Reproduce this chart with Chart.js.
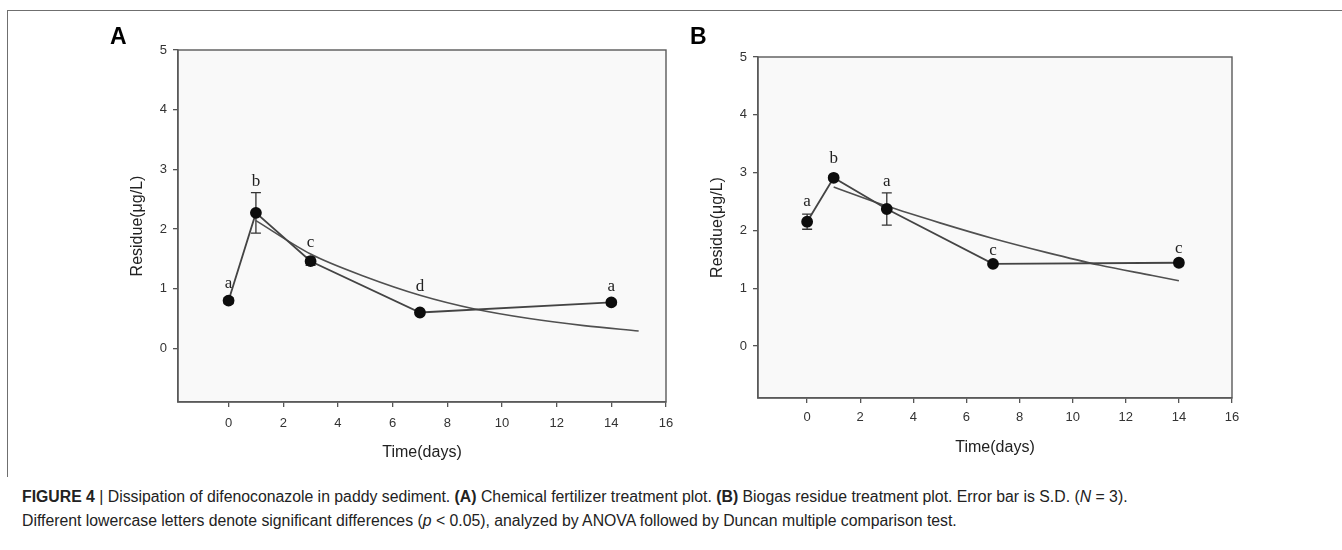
<!DOCTYPE html>
<html><head><meta charset="utf-8">
<script src="https://cdn.jsdelivr.net/npm/chart.js@4.4.1/dist/chart.umd.min.js"></script>
<style>
html,body{margin:0;padding:0;background:#fff;width:1342px;height:550px;overflow:hidden;}
#frame{position:absolute;left:7px;top:10px;width:1340px;height:466px;border-top:1px solid #6f6f6f;border-left:1px solid #6f6f6f;}
#wA{position:absolute;left:0;top:0;width:700px;height:470px;}
#wB{position:absolute;left:671px;top:0;width:671px;height:470px;}
.plbl{position:absolute;font:bold 23px "Liberation Sans",Arial,sans-serif;color:#000;line-height:23px;}
.cap{position:absolute;left:22px;font-size:15.8px;font-family:"Liberation Sans",Arial,sans-serif;color:#222;white-space:nowrap;line-height:20px;}
.cap b{font-weight:bold;}
</style></head>
<body>
<div id="frame"></div>
<div id="wA"><canvas id="cA"></canvas></div>
<div id="wB"><canvas id="cB"></canvas></div>
<div class="plbl" style="left:110px;top:25px;">A</div>
<div class="plbl" style="left:690px;top:25px;">B</div>
<div class="cap" style="top:487px;"><b>FIGURE 4</b> | Dissipation of difenoconazole in paddy sediment. <b>(A)</b> Chemical fertilizer treatment plot. <b>(B)</b> Biogas residue treatment plot. Error bar is S.D. (<i>N</i> = 3).</div>
<div class="cap" style="top:511px;">Different lowercase letters denote significant differences (<i>p</i> &lt; 0.05), analyzed by ANOVA followed by Duncan multiple comparison test.</div>
<script>
// ---- data ----
const days = [0, 1, 3, 7, 14];
const residueA = [0.80, 2.27, 1.46, 0.60, 0.77];
const sdA = [0.05, 0.34, 0.07, 0.03, 0.04];
const lettersA = ['a', 'b', 'c', 'd', 'a'];
const letterValA = [1.08, 2.80, 1.77, 1.03, 1.03];
const fitDaysA = [1, 3, 5, 7, 9, 11, 13, 15];
const fitA = [2.14, 1.58, 1.20, 0.89, 0.66, 0.50, 0.38, 0.29];

const residueB = [2.15, 2.91, 2.37, 1.42, 1.44];
const sdB = [0.13, 0.04, 0.28, 0.02, 0.05];
const lettersB = ['a', 'b', 'a', 'c', 'c'];
const letterValB = [2.50, 3.24, 2.84, 1.65, 1.68];
const fitDaysB = [1, 3, 5, 7, 9, 11, 13, 14];
const fitB = [2.75, 2.42, 2.13, 1.86, 1.62, 1.40, 1.22, 1.13];

const xTicks = [0, 2, 4, 6, 8, 10, 12, 14, 16];
const yTicks = [0, 1, 2, 3, 4, 5];
const xTitle = 'Time(days)';
const yTitle = 'Residue(\u03bcg/L)';

function pts(xs, ys) { return xs.map((x, i) => ({x: x, y: ys[i]})); }

const areaPlugin = {
  id: 'area',
  beforeDraw(chart) {
    const {ctx, chartArea: a} = chart;
    ctx.save();
    ctx.fillStyle = '#f9f9f9';
    ctx.fillRect(a.left, a.top, a.right - a.left, a.bottom - a.top);
    ctx.restore();
  },
  afterDraw(chart) {
    const {ctx, chartArea: a} = chart;
    ctx.save();
    ctx.strokeStyle = '#5a5a5a';
    ctx.lineWidth = 1.4;
    ctx.strokeRect(a.left, a.top, a.right - a.left, a.bottom - a.top);
    ctx.restore();
  }
};

const markPlugin = {
  id: 'marks',
  beforeDatasetsDraw(chart, args, opts) {
    const {ctx, scales: {x, y}} = chart;
    ctx.save();
    ctx.strokeStyle = '#333';
    ctx.lineWidth = 1.3;
    opts.vals.forEach((v, i) => {
      const px = x.getPixelForValue(opts.days[i]);
      const t = y.getPixelForValue(v + opts.sd[i]);
      const b = y.getPixelForValue(v - opts.sd[i]);
      ctx.beginPath();
      ctx.moveTo(px, t); ctx.lineTo(px, b);
      ctx.moveTo(px - 5, t); ctx.lineTo(px + 5, t);
      ctx.moveTo(px - 5, b); ctx.lineTo(px + 5, b);
      ctx.stroke();
    });
    ctx.restore();
  },
  afterDatasetsDraw(chart, args, opts) {
    const {ctx, scales: {x, y}} = chart;
    ctx.save();
    ctx.fillStyle = '#222';
    ctx.font = '17px "Liberation Serif", "Times New Roman", serif';
    ctx.textAlign = 'center';
    ctx.textBaseline = 'middle';
    opts.letters.forEach((l, i) => {
      ctx.fillText(l, x.getPixelForValue(opts.days[i]), y.getPixelForValue(opts.letterVals[i]));
    });
    ctx.restore();
  }
};

const sans = '"Liberation Sans", Arial, sans-serif';

function makeChart(id, cfg) {
  return new Chart(document.getElementById(id), {
    type: 'scatter',
    data: {
      datasets: [
        {data: pts(days, cfg.vals), showLine: true, borderColor: '#444', borderWidth: 1.8,
         pointRadius: 5, pointBackgroundColor: '#0d0d0d', pointBorderColor: '#0d0d0d', tension: 0, order: 1},
        {data: pts(cfg.fitDays, cfg.fit), showLine: true, borderColor: '#505050', borderWidth: 1.6,
         pointRadius: 0, cubicInterpolationMode: 'monotone', order: 2}
      ]
    },
    options: {
      responsive: true, maintainAspectRatio: false, animation: false,
      layout: {padding: {top: cfg.top, right: cfg.right, left: 0, bottom: 0}},
      plugins: {
        legend: {display: false}, tooltip: {enabled: false},
        marks: {vals: cfg.vals, sd: cfg.sd, days: days, letters: cfg.letters, letterVals: cfg.letterVals}
      },
      scales: {
        x: {
          type: 'linear', min: -1.85, max: 16,
          afterBuildTicks: s => { s.ticks = xTicks.map(v => ({value: v})); },
          afterFit: s => { s.height = cfg.xH; },
          ticks: {color: '#333', font: {family: sans, size: 13}, padding: cfg.xPad, maxRotation: 0, autoSkip: false},
          grid: {display: true, drawOnChartArea: false, drawTicks: true, tickLength: 5, color: '#555', lineWidth: 1.3},
          border: {display: true, color: '#5a5a5a', width: 1.4},
          title: {display: true, text: xTitle, color: '#222', font: {family: sans, size: 16}, padding: {top: 0, bottom: cfg.xTitlePad}}
        },
        y: {
          type: 'linear', min: -0.9, max: 5,
          afterBuildTicks: s => { s.ticks = yTicks.map(v => ({value: v})); },
          afterFit: s => { s.width = cfg.yW; },
          ticks: {color: '#333', font: {family: sans, size: 13}, padding: 6},
          grid: {display: true, drawOnChartArea: false, drawTicks: true, tickLength: 5, color: '#555', lineWidth: 1.3},
          border: {display: true, color: '#5a5a5a', width: 1.4},
          title: {display: true, text: yTitle, color: '#222', font: {family: sans, size: 16}, padding: {top: cfg.yTitlePad, bottom: 0}}
        }
      }
    },
    plugins: [areaPlugin, markPlugin]
  });
}

makeChart('cA', {vals: residueA, sd: sdA, letters: lettersA, letterVals: letterValA, fitDays: fitDaysA, fit: fitA,
  top: 50, right: 34, xH: 68, yW: 178, xPad: 9, xTitlePad: 7.4, yTitlePad: 128.4});
makeChart('cB', {vals: residueB, sd: sdB, letters: lettersB, letterVals: letterValB, fitDays: fitDaysB, fit: fitB,
  top: 57, right: 110, xH: 72, yW: 87, xPad: 7, xTitlePad: 12.4, yTitlePad: 37.4});
</script>
</body></html>
